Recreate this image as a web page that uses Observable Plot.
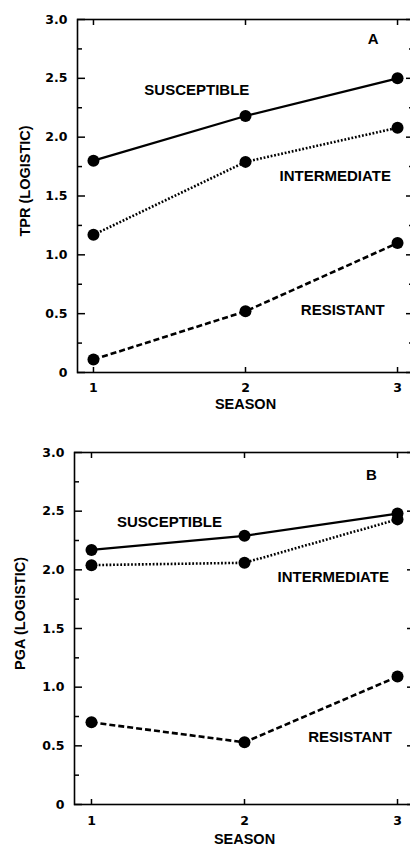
<!DOCTYPE html>
<html><head><meta charset="utf-8">
<script src="https://cdn.jsdelivr.net/npm/d3@7"></script>
<script src="https://cdn.jsdelivr.net/npm/@observablehq/plot@0.6"></script>
<style>
html,body{margin:0;padding:0;background:#fff;overflow:hidden;width:410px;height:853px;}
#chart svg{display:block;font-family:'Liberation Sans', Arial, Helvetica, sans-serif;font-weight:bold;}
#chart svg text{font-weight:bold;}
</style></head><body><div id="chart"></div>
<script>
const seasons = [1, 2, 3];
const seriesNames = ["SUSCEPTIBLE", "INTERMEDIATE", "RESISTANT"];
const tprSusceptible = [1.80, 2.18, 2.50];
const tprIntermediate = [1.17, 1.79, 2.08];
const tprResistant = [0.11, 0.52, 1.10];
const pgaSusceptible = [2.17, 2.29, 2.48];
const pgaIntermediate = [2.04, 2.06, 2.43];
const pgaResistant = [0.70, 0.53, 1.09];
const yMajorTicks = [0, 0.5, 1, 1.5, 2, 2.5, 3];
const yTickLabels = ["0", "0.5", "1.0", "1.5", "2.0", "2.5", "3.0"];
const yMinorTicks = [0.25, 0.75, 1.25, 1.75, 2.25, 2.75];
const panelLetters = ["A", "B"];
const yTitles = ["TPR (LOGISTIC)", "PGA (LOGISTIC)"];
const xTitle = "SEASON";

// annotation anchors, in data units
const labelPosA = [[1.68, 2.40], [2.59, 1.67], [2.64, 0.53]];
const labelPosB = [[1.51, 2.41], [2.58, 1.94], [2.69, 0.57]];
const letterPos = [[2.84, 2.835], [2.83, 2.81]];

const TICKFONT = "'DejaVu Sans', sans-serif";
const lineStyle = {
  SUSCEPTIBLE: {dash: null, w: 2.3},
  INTERMEDIATE: {dash: "1.8,1.8", w: 2.6},
  RESISTANT: {dash: "6,3", w: 2.6}
};

function panel(values, idx, labelPos, geom) {
  const rows = [];
  seriesNames.forEach((s, i) => seasons.forEach((x, j) => rows.push({series: s, season: x, value: values[i][j]})));
  const labels = seriesNames.map((s, i) => ({text: s, x: labelPos[i][0], y: labelPos[i][1]}));
  const marks = [
    Plot.frame({strokeWidth: 1.6}),
    Plot.axisY(yMajorTicks, {anchor: "left", tickSize: 8, dx: 8, fill: "none", strokeWidth: 1.5}),
    Plot.axisY(yMinorTicks, {anchor: "left", tickSize: 5, dx: 5, fill: "none", strokeWidth: 1.5}),
    Plot.axisY(yMajorTicks, {anchor: "right", tickSize: 8, dx: -8, fill: "none", strokeWidth: 1.5}),
    Plot.axisY(yMinorTicks, {anchor: "right", tickSize: 5, dx: -5, fill: "none", strokeWidth: 1.5}),
    Plot.axisY(yMajorTicks, {anchor: "left", tickSize: 0, tickPadding: 10, label: null,
      fontFamily: TICKFONT, fontSize: 12.5, fontWeight: "bold",
      tickFormat: d => yTickLabels[yMajorTicks.indexOf(d)]}),
    Plot.axisX(seasons, {anchor: "top", tickSize: 5, dy: 5, fill: "none", strokeWidth: 1.5}),
    Plot.axisX(seasons, {anchor: "bottom", tickSize: 5, dy: -5, fill: "none", strokeWidth: 1.5}),
    Plot.axisX(seasons, {anchor: "bottom", tickSize: 0, tickPadding: geom.xTickPad, label: null,
      fontFamily: TICKFONT, fontSize: 12.5, fontWeight: "bold",
      tickFormat: d => String(d)}),
    ...seriesNames.map(s => Plot.line(rows.filter(r => r.series === s), {
      x: "season", y: "value", stroke: "black", strokeWidth: lineStyle[s].w,
      strokeDasharray: lineStyle[s].dash, strokeLinecap: "butt"
    })),
    Plot.dot(rows, {x: "season", y: "value", r: 6, fill: "black", stroke: "none"}),
    Plot.text(labels, {x: "x", y: "y", text: "text", fontSize: 15, fill: "black"}),
    Plot.text([panelLetters[idx]], {x: () => letterPos[idx][0], y: () => letterPos[idx][1], text: d => d, fontSize: 15}),
    Plot.text([xTitle], {frameAnchor: "bottom", dy: geom.xTitleDy, text: d => d, fontSize: 14.5}),
    Plot.text([yTitles[idx]], {frameAnchor: "left", textAnchor: "middle", lineAnchor: "middle",
      dx: geom.yTitleDx, dy: -15, rotate: -90, text: d => d, fontSize: 14.5})
  ];
  return Plot.plot({
    width: 420,
    height: geom.height,
    marginTop: geom.mt, marginBottom: geom.mb, marginLeft: geom.ml, marginRight: geom.mr,
    x: {domain: geom.xdom},
    y: {domain: [0, 3]},
    style: {color: "black", background: "white", maxWidth: "none", overflow: "visible", fontSize: "13px"},
    marks
  });
}

const chart = document.getElementById("chart");
chart.appendChild(panel([tprSusceptible, tprIntermediate, tprResistant], 0, labelPosA,
  {height: 420, mt: 19, mb: 48, ml: 77, mr: 7, xdom: [0.895, 3.105], xTickPad: 11, xTitleDy: 36, yTitleDx: -52}));
chart.appendChild(panel([pgaSusceptible, pgaIntermediate, pgaResistant], 1, labelPosB,
  {height: 433, mt: 32, mb: 49, ml: 74, mr: 6, xdom: [0.889, 3.111], xTickPad: 12, xTitleDy: 39, yTitleDx: -54}));
</script></body></html>
